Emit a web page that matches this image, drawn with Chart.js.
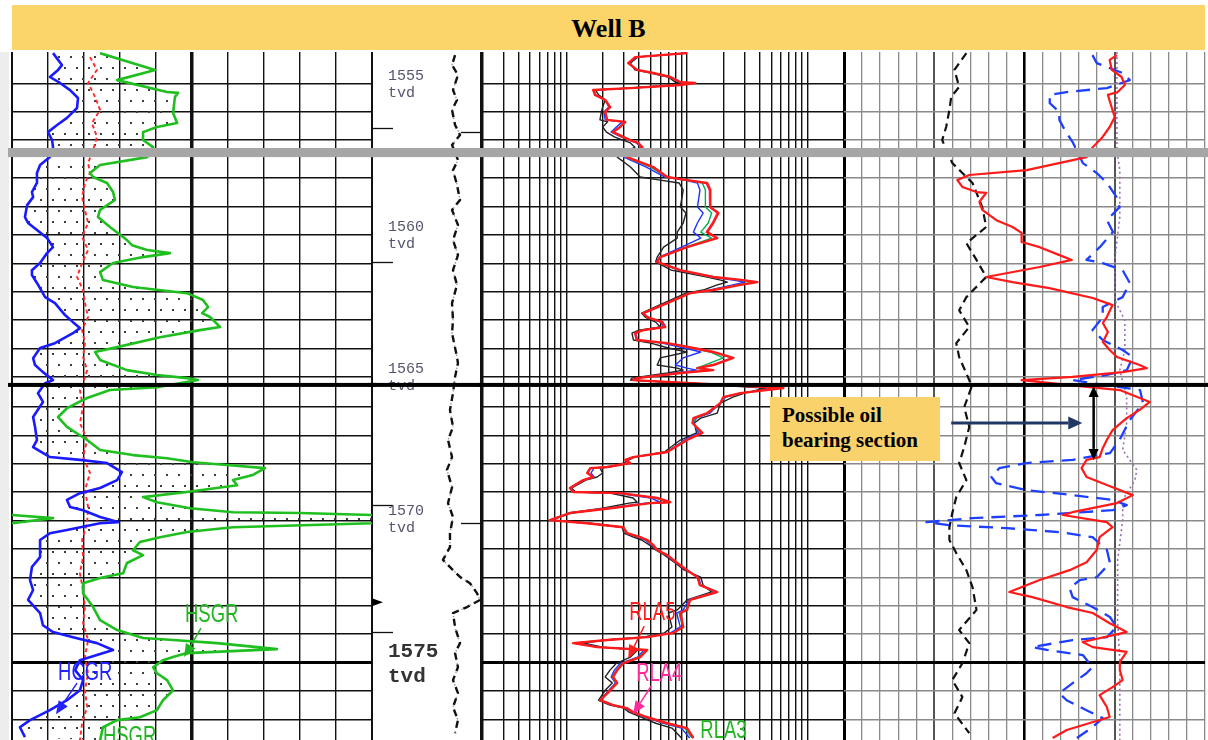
<!DOCTYPE html>
<html>
<head>
<meta charset="utf-8">
<title>Well B</title>
<script src="https://cdn.jsdelivr.net/npm/chart.js@4.4.1/dist/chart.umd.min.js"></script>
<style>
  html, body { margin:0; padding:0; background:#ffffff; }
  #stage { position:relative; width:1208px; height:740px; overflow:hidden; background:#ffffff; }
  #stage canvas { position:absolute; }
  #title { position:absolute; left:12px; top:5px; width:1193px; height:45px; background:#FBD46A;
           font:bold 26px "Liberation Serif","Times New Roman",serif; color:#000; text-align:center; line-height:47px; }
  #note { position:absolute; left:770px; top:397px; width:158px; height:58px; padding:6px 0 0 12px; background:#F9D26B;
          font:bold 21px "Liberation Serif","Times New Roman",serif; line-height:25px; color:#000; }
  #edge { position:absolute; left:0; top:52px; width:9px; height:688px; background:#ededed; }
</style>
</head>
<body>
<div id="stage">
  <div id="edge"></div>
  <div id="title">Well B</div>
  <canvas id="trackGR"></canvas>
  <canvas id="trackDepth"></canvas>
  <canvas id="trackRes"></canvas>
  <canvas id="trackPor"></canvas>
  <div id="note">Possible oil<br>bearing section</div>
</div>
<script>
// ---------------- depth axis ----------------
const DEPTH_MIN = 1553.56;
const DEPTH_MAX = 1577.78;
const gridDepths = [1554.66,1555.66,1556.66,1558,1559,1560,1561,1562,1563,1564,1565,
  1566.05,1567.05,1568.05,1569.05,1570.05,1571.05,1572.05,1573.05,1574.05,1575.05,1576.05,1577.05];
const HEAVY_GRID_DEPTH = 1575.05;
const SPLICE_LINE_DEPTH = 1565.28;
const SPLICE_BAND = [1556.94, 1557.26];

// depth labels (track 2)
const depthLabelText = ['1555','1560','1565','1570','1575'];
const depthLabelAnchor = [1554.68, 1560, 1565, 1570, 1575];
const depthLabelBold = [false,false,false,false,true];
const leftTickDepths = [1556.24, 1560.95, 1569.51, 1573.98];
const rightTickDepths = [1556.38, 1570.15];
const MARKER_DEPTH = 1572.93;

// ---------------- tick lists ----------------
const grTicks = [0,15,30,45,60,75,90,105,120,135,150];
const resTicks = [0.2,0.3,0.4,0.5,0.6,0.7,0.8,0.9,1,2,3,4,5,6,7,8,9,10,20,30,40,50,60,70,80,90,100,200];
const porTicks = [0,1,2,3,4,5,6,7,8,9,10,11,12,13,14,15,16,17,18,19,20];

// ---------------- Track 1: gamma ray (gAPI, 0-150) ----------------
const hsgrDepth = [1553.60,1554.19,1554.55,1554.97,1555.00,1555.14,1555.71,1556.06,1556.20,1556.38,1556.66,1556.91,1557.26,1557.54,1557.82,1557.96,1558.17,1558.49,1558.77,1559.12,1559.37,1559.72,1560.18,1560.36,1560.53,1560.64,1560.78,1560.99,1561.31,1561.59,1561.83,1562.05,1562.29,1562.54,1562.75,1562.89,1563.24,1563.35,1563.60,1563.95,1564.12,1564.40,1564.76,1564.93,1565.04,1565.11,1565.36,1565.46,1565.74,1566.10,1566.41,1566.76,1567.22,1567.57,1567.75,1567.86,1568.00,1568.10,1568.21,1568.45,1568.63,1568.81,1569.05,1569.23,1569.41,1569.62,1569.76,1569.79,1569.86,1569.97,1570.15,1570.29,1570.46,1570.64,1570.81,1571.10,1571.27,1571.55,1571.91,1572.08,1572.26,1572.61,1573.10,1573.56,1573.91,1574.19,1574.26,1574.37,1574.58,1574.72,1574.86,1574.97,1575.22,1575.43,1575.67,1576.03,1576.38,1576.73,1576.98,1577.08,1577.33,1577.79];
const hsgrVal = [36.7,59.6,43.8,64.6,69.2,67.9,67.1,68.8,60.4,54.6,54.6,58.8,56.3,36.7,32.5,33.8,39.6,42.1,42.9,36.7,35.8,40.8,47.9,50.0,56.3,65.8,54.6,42.1,36.7,37.9,50.4,72.9,79.6,81.7,79.2,82.5,86.7,78.3,61.7,43.8,34.6,36.7,47.9,60.4,72.9,77.5,60.4,40.8,31.3,22.9,19.2,22.9,31.3,36.7,50.4,64.6,75.4,89.6,105.4,100.4,92.1,93.8,72.9,54.6,60.4,74.2,92.1,120,150,167,150,92.1,72.9,61.7,53.3,50.4,54.6,47.9,46.3,36.7,29.6,29.6,33.8,36.7,43.8,54.6,67.1,85.4,110.4,72.9,67.1,62.9,58.8,60.4,64.6,67.1,62.9,60.4,53.3,43.8,37.9,36.7];
const hsgrWrapDepth = [1569.86,1569.97,1570.15];
const hsgrWrapVal = [0,17.1,0];
const hcgrDepth = [1553.60,1554.02,1554.19,1554.44,1554.65,1554.90,1555.18,1555.53,1555.88,1556.13,1556.38,1556.66,1556.91,1557.26,1557.54,1557.82,1558.17,1558.49,1558.67,1558.95,1559.37,1559.58,1559.83,1560.11,1560.43,1560.64,1560.99,1561.24,1561.41,1561.69,1562.19,1562.40,1562.82,1563.07,1563.28,1563.46,1563.81,1563.98,1564.34,1564.58,1564.83,1565.11,1565.22,1565.57,1565.88,1566.41,1566.76,1567.22,1567.47,1567.82,1567.92,1568.03,1568.35,1568.63,1568.91,1569.09,1569.33,1569.58,1569.69,1569.93,1570.11,1570.15,1570.39,1570.50,1570.74,1571.34,1571.69,1572.15,1572.50,1572.85,1573.31,1573.74,1573.98,1574.16,1574.37,1574.61,1574.79,1574.97,1575.32,1575.67,1576.03,1576.38,1576.73,1577.08,1577.33,1577.68];
const hcgrVal = [17.1,20.8,19.2,15.8,20.0,24.2,27.5,27.1,22.9,18.8,15.0,16.7,17.1,15.8,11.7,10.4,10.4,8.3,8.8,6.3,5.4,6.7,10.4,14.6,17.1,14.6,11.7,8.3,8.3,10.4,13.8,17.9,22.1,25.4,28.3,25.4,17.9,11.7,8.8,9.6,12.9,17.1,13.8,10.8,12.9,8.8,9.6,10.4,8.8,15.8,28.3,39.6,45.8,43.8,36.7,28.3,22.9,24.2,29.6,36.7,44.2,36.7,22.9,15.8,11.7,11.7,8.3,7.5,8.8,6.7,11.7,12.9,17.1,25.4,35.4,42.1,35.4,28.3,26.3,29.6,28.3,22.9,15.8,7.5,3.3,5.4];
const thorDepth = [1553.74,1554.19,1554.65,1555.14,1555.60,1556.06,1556.55,1557.01,1557.47,1557.82,1558.17,1558.67,1559.12,1559.58,1560.07,1560.53,1560.99,1561.48,1561.94,1562.40,1562.89,1563.35,1563.81,1564.30,1564.76,1565.22,1565.46,1566.06,1566.62,1567.22,1567.82,1568.38,1568.98,1569.58,1570.15,1570.74,1571.34,1571.91,1572.50,1573.10,1573.67,1574.26,1574.86,1575.43,1576.03,1576.62,1577.19,1577.79];
const thorVal = [32.5,35.4,31.7,34.6,36.7,33.3,35.4,33.8,31.7,32.5,30.4,29.2,30.4,31.7,29.2,31.7,29.2,27.1,29.6,30.4,31.7,29.2,30.4,29.6,31.3,29.6,28.3,29.6,28.3,31.3,29.6,32.5,30.4,31.7,31.3,29.2,29.6,28.3,29.6,30.4,29.6,31.7,30.4,31.7,30.4,31.3,29.2,28.3];

// ---------------- Track 2: depth-track curve ----------------
const dtDepth = [1553.67,1554.02,1554.37,1554.90,1555.25,1555.60,1556.13,1556.48,1556.83,1557.36,1557.72,1558.24,1558.77,1559.12,1559.65,1560.18,1560.71,1561.24,1561.76,1562.40,1563.00,1563.46,1564.30,1564.51,1565.00,1565.57,1566.16,1566.76,1567.22,1567.82,1568.27,1568.88,1569.44,1569.93,1570.50,1570.99,1571.44,1571.80,1572.04,1572.26,1572.61,1572.85,1573.10,1573.31,1573.81,1574.37,1574.72,1575.22,1575.67,1576.13,1576.62,1577.08,1577.54];
const dtVal = [7.69,7.41,7.96,7.50,7.87,7.41,7.69,8.15,7.41,7.96,7.50,7.87,8.15,7.41,7.96,7.50,7.96,7.50,7.87,7.41,7.50,7.41,7.87,7.96,7.69,7.50,7.22,7.50,7.04,7.41,6.94,7.41,7.04,7.50,7.22,7.22,6.57,7.50,8.15,9.07,9.72,10.0,8.80,7.50,7.69,8.15,7.69,7.96,7.50,7.96,7.50,7.96,7.69];

// ---------------- Track 3: resistivity (ohm.m, log 0.2-200) ----------------
const resDepth = [1553.60,1553.74,1553.95,1554.19,1554.30,1554.44,1554.62,1554.65,1554.72,1554.83,1554.90,1555.07,1555.25,1555.50,1555.67,1555.95,1556.02,1556.20,1556.38,1556.55,1556.66,1556.76,1556.91,1557.26,1557.61,1557.96,1558.07,1558.17,1558.42,1559.02,1559.23,1559.58,1559.90,1560.11,1560.43,1560.78,1560.95,1561.24,1561.48,1561.59,1561.66,1561.76,1561.94,1562.05,1562.40,1562.75,1562.89,1563.07,1563.24,1563.35,1563.46,1563.70,1563.81,1563.98,1564.12,1564.33,1564.58,1564.69,1564.76,1564.86,1565.04,1565.11,1565.39,1565.57,1565.71,1565.92,1566.27,1566.45,1566.62,1566.97,1567.22,1567.64,1567.82,1567.92,1568.03,1568.17,1568.21,1568.38,1568.52,1568.63,1568.91,1569.05,1569.09,1569.26,1569.41,1569.44,1569.62,1569.79,1570.04,1570.15,1570.29,1570.50,1570.64,1570.74,1570.92,1571.09,1571.27,1571.55,1571.80,1572.05,1572.33,1572.57,1572.85,1573.20,1573.31,1573.80,1574.01,1574.16,1574.26,1574.37,1574.51,1574.61,1574.86,1575.08,1575.32,1575.56,1575.77,1576.03,1576.38,1576.55,1576.66,1576.80,1576.98,1577.19,1577.36,1577.71];
const rla5 = [10.0,3.72,3.26,3.86,5.25,7.26,8.79,11.7,8.79,3.38, 1.67,1.73,2.10,2.31,2.10,2.18,3.08,2.79,2.44,2.96, 3.38,3.94,4.26,3.19,5.25,6.86,10.0,14.7,15.6,15.6, 18.2,16.5,14.7,17.8,10.0,6.00,5.66,8.79,16.5,29.3, 38.3,27.7,16.5,10.6,6.86,4.34,4.68,6.24,6.60,4.34, 3.72,3.86,6.86,11.3,16.5,24.2,16.5,12.2,16.5,8.79, 3.86,3.58,63.0,27.7,20.0,18.9,14.7,11.3,11.1,13.4, 10.0,6.86,3.58,3.08,3.38,2.18,1.58,1.49,1.67,1.38, 1.07,1.14,2.79,5.66,7.26,4.96,2.31,1.07,0.73,1.49, 2.96,3.19,4.09,4.68,5.25,5.66,6.86,8.30,10.0,12.2, 12.8,17.8,10.6,10.0,8.79,9.31,7.69,4.68,2.18,1.14, 1.80,4.68,4.09,2.96,2.64,2.44,2.64,2.31,1.91,2.44, 3.19,3.58,4.68,6.86,10.0,11.3];
const rla4 = [10.0,3.72,3.26,3.86,5.25,7.26,8.79,11.5,8.79,3.38, 1.67,1.73,2.1,2.31,2.1,2.18,3.08,2.79,2.44,2.96, 3.38,3.94,4.26,3.19,5.25,6.86,10.0,14.3,15.3,15.4, 17.8,16.2,14.4,17.5,10.0,6.0,5.66,8.79,16.5,29.0, 38.0,27.5,16.5,10.6,6.86,4.34,4.68,6.24,6.6,4.34, 3.72,3.86,6.86,11.2,16.3,23.5,16.0,12.2,16.3,8.79, 3.86,3.58,62.0,27.7,20.0,18.9,14.7,11.3,11.1,13.4, 10.0,6.86,3.58,3.08,3.38,2.18,1.58,1.49,1.67,1.38, 1.07,1.14,2.79,5.66,7.26,4.96,2.31,1.07,0.73,1.49, 2.96,3.19,4.09,4.68,5.25,5.66,6.86,8.3,10.0,12.2, 12.8,17.8,10.6,10.0,8.79,9.31,7.69,4.68,2.18,1.14, 1.8,4.68,4.09,2.96,2.64,2.44,2.64,2.31,1.91,2.44, 3.19,3.58,4.68,6.86,10.0,11.3];
const rla3 = [10.0,3.75,3.3,3.86,5.25,7.26,8.79,11.0,8.7,3.38, 1.68,1.73,2.1,2.3,2.1,2.15,3.0,2.75,2.4,2.9, 3.35,3.9,4.25,3.1,5.0,6.8,9.8,13.4,14.2,14.2, 16.0,15.0,13.0,16.0,9.8,6.0,5.66,8.7,16.3,27.5, 35.0,26.5,16.2,10.5,6.86,4.34,4.68,6.2,6.6,4.34, 3.72,3.86,6.7,10.8,15.5,20.0,14.0,12.0,15.0,8.6, 3.86,3.58,60.0,27.7,20.5,18.9,15.0,11.8,11.2,13.0, 9.8,6.86,3.58,3.1,3.38,2.18,1.6,1.5,1.67,1.38, 1.07,1.14,2.75,5.5,7.0,4.9,2.3,1.07,0.74,1.5, 2.96,3.19,4.0,4.6,5.2,5.66,6.8,8.3,10.0,12.2, 12.8,17.5,10.5,9.8,8.6,9.2,7.6,4.6,2.18,1.16, 1.82,4.6,4.0,2.9,2.6,2.4,2.6,2.3,1.91,2.44, 3.19,3.55,4.6,6.7,9.6,11.0];
const rla2 = [10.0,3.8,3.3,3.8,5.2,7.2,8.6,10.2,8.5,3.4, 1.7,1.75,2.1,2.25,2.05,2.1,2.9,2.6,2.35,2.85, 3.3,3.8,4.2,3.0,4.6,6.5,9.5,12.2,12.8,12.2, 13.6,12.2,11.3,13.0,9.0,5.9,5.6,8.5,15.8,24.0, 30.0,24.0,15.5,10.3,6.8,4.3,4.7,6.0,6.5,4.3, 3.7,3.8,6.2,9.5,13.0,9.3,8.0,10.0,12.0,8.0, 3.8,3.5,55.0,28.0,21.0,18.9,15.5,12.0,11.3,12.5, 9.5,6.8,3.6,3.2,3.3,2.2,1.7,1.6,1.7,1.4, 1.08,1.15,2.6,5.0,6.0,4.5,2.2,1.07,0.75,1.5, 2.95,3.15,3.9,4.5,5.1,5.6,6.7,8.2,9.8,12.5, 13.0,17.0,10.3,9.3,8.2,8.8,7.3,4.5,2.15,1.25, 1.9,4.4,3.9,2.8,2.5,2.35,2.55,2.25,1.9,2.4, 3.1,3.5,4.5,6.4,9.0,10.5];
const rla1 = [10.0,3.9,3.4,3.7,5.0,7.0,8.0,8.8,7.5,3.2, 1.75,1.85,2.1,2.0,1.95,1.9,2.2,2.0,2.15,2.5, 2.95,3.4,3.7,2.64,3.4,4.09,6.0,8.6,9.3,8.8, 9.8,9.3,8.3,8.3,6.4,5.66,5.5,7.4,14.7,19.0, 21.6,17.8,13.6,9.8,6.4,4.2,4.5,5.5,6.0,4.0, 3.5,3.6,5.0,7.0,10.0,6.0,5.66,8.3,9.3,6.86, 3.5,3.4,45.0,30.0,24.0,18.9,17.8,13.0,11.5,12.0, 8.8,6.5,3.7,3.3,3.0,2.3,1.9,2.0,1.8,1.45, 1.1,1.2,2.3,3.58,3.86,3.3,2.0,1.05,0.76,1.6, 2.9,3.0,3.6,4.2,4.9,5.5,6.5,8.0,9.5,13.0, 13.6,16.0,10.0,8.3,7.0,7.5,6.5,4.3,2.1,1.4, 2.0,3.9,3.4,2.6,2.3,2.1,2.4,2.1,1.85,2.3, 3.0,3.3,4.2,5.5,7.5,9.0];

// ---------------- Track 4: porosity / density ----------------
const rhozDepth = [1553.67,1553.84,1554.19,1554.44,1554.72,1554.97,1555.07,1555.53,1555.85,1556.20,1556.59,1556.91,1557.26,1557.72,1557.89,1558.07,1558.31,1558.49,1558.52,1558.70,1558.84,1559.12,1559.48,1559.72,1559.93,1560.25,1560.43,1560.71,1560.88,1561.13,1561.48,1561.66,1561.87,1562.22,1562.47,1562.89,1563.10,1563.42,1563.77,1564.05,1564.30,1564.58,1564.69,1564.83,1565.00,1565.11,1565.36,1565.46,1565.88,1566.16,1566.45,1566.87,1567.22,1567.50,1567.82,1567.92,1568.21,1568.52,1568.88,1569.16,1569.44,1569.76,1569.86,1570.11,1570.29,1570.64,1571.09,1571.52,1571.80,1572.15,1572.57,1572.75,1573.10,1573.31,1573.67,1573.98,1574.33,1574.51,1574.68,1575.04,1575.32,1575.67,1575.92,1576.20,1576.62,1576.97,1577.18,1577.43,1577.71];
const rhozVal = [2.706,2.686,2.692,2.719,2.728,2.708,2.681,2.692,2.700,2.686,2.664,2.639,2.622,2.456,2.297,2.264,2.278,2.317,2.344,2.333,2.325,2.333,2.372,2.417,2.442,2.442,2.492,2.547,2.581,2.492,2.344,2.417,2.519,2.639,2.694,2.678,2.667,2.681,2.667,2.686,2.706,2.769,2.789,2.722,2.583,2.442,2.631,2.714,2.797,2.769,2.733,2.694,2.678,2.667,2.658,2.622,2.608,2.622,2.694,2.750,2.706,2.583,2.556,2.678,2.694,2.658,2.650,2.622,2.575,2.492,2.408,2.472,2.567,2.639,2.686,2.733,2.611,2.639,2.733,2.714,2.714,2.722,2.694,2.658,2.678,2.686,2.631,2.567,2.528];
const nphiDepth = [1553.67,1553.95,1554.30,1554.55,1554.83,1554.97,1555.07,1555.36,1555.67,1555.95,1556.31,1556.73,1557.47,1557.82,1558.17,1558.67,1559.02,1559.48,1559.90,1560.43,1560.88,1560.99,1561.24,1561.69,1562.19,1562.54,1562.89,1563.35,1563.70,1564.05,1564.30,1564.76,1564.93,1565.11,1565.22,1565.46,1565.92,1566.51,1567.22,1567.68,1567.92,1568.03,1568.21,1568.52,1568.74,1568.98,1569.16,1569.33,1569.51,1569.69,1569.86,1569.97,1570.11,1570.22,1570.32,1570.46,1570.64,1571.09,1571.55,1572.05,1572.15,1572.43,1572.75,1573.10,1573.45,1573.80,1574.16,1574.26,1574.51,1574.61,1574.79,1575.22,1575.43,1575.78,1576.13,1576.38,1576.73,1577.01,1577.33,1577.71];
const nphiVal = [0.037,0.030,-0.013,-0.025,0.013,0.080,0.108,0.108,0.092,0.092,0.083,0.070,0.053,0.030,0.013,-0.003,-0.008,0.013,0.003,0.025,0.047,0.020,-0.013,-0.025,-0.013,0.020,0.020,0.037,0.020,-0.013,-0.030,-0.020,0.013,0.070,0.037,-0.042,-0.047,-0.025,-0.008,0.008,0.070,0.147,0.192,0.205,0.197,0.147,0.070,0.003,-0.020,0.003,0.125,0.237,0.313,0.275,0.180,0.092,0.037,0.013,0.008,0.030,0.058,0.075,0.070,0.037,0.008,-0.003,0.013,0.070,0.137,0.113,0.053,0.037,0.047,0.070,0.092,0.080,0.047,0.020,0.037,0.063];
const pefDepth = [1553.56,1557.01,1557.72,1559.37,1560.88,1562.29,1563.00,1564.05,1564.76,1565.71,1566.62,1567.57,1568.27,1568.63,1569.33,1570.04,1571.44,1573.56,1574.97,1576.38,1577.79];
const pefVal = [7.56,7.56,7.64,7.64,7.50,7.50,7.78,7.78,7.64,7.83,7.83,7.72,8.11,8.06,7.72,7.72,7.58,7.58,7.64,7.64,7.64];
const caliDepth = [1553.60,1554.19,1554.79,1555.14,1555.60,1556.20,1556.66,1557.47,1557.82,1558.17,1558.52,1559.02,1559.72,1560.29,1560.88,1561.48,1562.19,1562.65,1563.24,1563.81,1564.30,1565.11,1565.36,1566.06,1566.76,1567.47,1568.03,1568.63,1569.23,1569.79,1570.29,1570.74,1571.20,1571.80,1572.40,1573.20,1573.91,1574.37,1575.08,1575.67,1576.27,1576.84,1577.54];
const caliVal = [9.39,9.06,9.19,8.97,8.92,8.83,8.72,9.00,9.28,9.56,9.67,9.83,9.94,9.39,9.67,9.94,9.39,9.19,9.47,9.11,9.19,9.47,9.53,9.33,9.47,9.33,9.19,9.39,9.11,9.00,8.92,8.92,9.11,9.39,9.56,9.67,9.19,9.47,9.28,9.00,9.28,9.06,9.47];

// ---------------- annotations (data coordinates) ----------------
const grTags = [
  { text:'HSGR', color:'#22b522', x:72.1, d:1573.63, arrow:[78.75,1573.84,71.7,1574.86] },
  { text:'HCGR', color:'#2323ff', x:19.2, d:1575.67, arrow:[27.1,1575.78,18.3,1576.87] },
  { text:'HSGR', color:'#22b522', x:37.9, d:1577.93 }
];
const resTags = [
  { text:'RLA5', color:'#ff2020', x:3.32, d:1573.56, arrow:[4.42,1573.77,3.26,1574.90] },
  { text:'RLA4', color:'#ff2a9a', x:3.79, d:1575.71, arrow:[5.05,1575.88,3.58,1576.87] },
  { text:'RLA3', color:'#22b522', x:12.9, d:1577.72 }
];
const noteArrow = { from:5.94, to:13.2, d:1566.62 };
const oilInterval = { x:13.83, top:1565.32, base:1567.92 };

// ---------------- helpers ----------------
const pts = (ds, vs) => ds.map((d, i) => ({ x: vs[i], y: d }));

function curve(label, data, color, width, dash, xAxisID) {
  return { label, data, showLine: true, borderColor: color, backgroundColor: color,
    borderWidth: width, borderDash: dash || [], pointRadius: 0, pointHoverRadius: 0,
    fill: false, xAxisID: xAxisID || 'x', yAxisID: 'y', borderJoinStyle: 'round' };
}

function isHeavy(c) { return c.tick && Math.abs(c.tick.value - HEAVY_GRID_DEPTH) < 0.001; }

function yAxis(lineColor, visible) {
  return {
    type: 'linear', min: DEPTH_MIN, max: DEPTH_MAX, reverse: true,
    ticks: { display: false }, border: { display: false },
    grid: { display: visible, drawTicks: false,
      color: c => isHeavy(c) ? '#000' : lineColor,
      lineWidth: c => isHeavy(c) ? 3 : 1.4 },
    afterBuildTicks: s => { s.ticks = gridDepths.map(v => ({ value: v })); }
  };
}
function hiddenX(min, max, reverse) {
  return { type: 'linear', axis: 'x', min, max, reverse: !!reverse, display: false };
}

function drawArrow(ctx, x1, y1, x2, y2, color, lw, hl, hw) {
  const a = Math.atan2(y2 - y1, x2 - x1);
  const bx = x2 - hl * Math.cos(a), by = y2 - hl * Math.sin(a);
  ctx.save();
  ctx.strokeStyle = color; ctx.fillStyle = color; ctx.lineWidth = lw;
  ctx.beginPath(); ctx.moveTo(x1, y1); ctx.lineTo(bx, by); ctx.stroke();
  ctx.beginPath(); ctx.moveTo(x2, y2);
  ctx.lineTo(bx + hw / 2 * Math.sin(a), by - hw / 2 * Math.cos(a));
  ctx.lineTo(bx - hw / 2 * Math.sin(a), by + hw / 2 * Math.cos(a));
  ctx.closePath(); ctx.fill();
  ctx.restore();
}
function drawTag(ctx, text, px, py, color) {
  ctx.save(); ctx.translate(px, py); ctx.scale(0.71, 1);
  ctx.font = '26px "Liberation Sans", Arial, sans-serif';
  ctx.fillStyle = color; ctx.textBaseline = 'alphabetic';
  ctx.fillText(text, 0, 0); ctx.restore();
}
function tagPlugin(tags) {
  return { id: 'tags', afterDraw(chart) {
    const { ctx, scales: { x, y } } = chart;
    tags.forEach(t => {
      drawTag(ctx, t.text, x.getPixelForValue(t.x), y.getPixelForValue(t.d), t.color);
      if (t.arrow) drawArrow(ctx, x.getPixelForValue(t.arrow[0]), y.getPixelForValue(t.arrow[1]),
        x.getPixelForValue(t.arrow[2]), y.getPixelForValue(t.arrow[3]), t.color, 1.5, 13, 11);
    });
  } };
}

function dotTile() {
  const c = document.createElement('canvas'); c.width = 12; c.height = 22;
  const g = c.getContext('2d'); g.fillStyle = '#3c3c3c';
  [[3, 5], [9, 16]].forEach(([px, py]) => { g.fillRect(px - 1, py - 1, 2, 2); });
  return c;
}

const splicePlugin = { id: 'splice', afterDatasetsDraw(chart) {
  const { ctx, scales: { y } } = chart;
  const t = y.getPixelForValue(SPLICE_BAND[0]), b = y.getPixelForValue(SPLICE_BAND[1]);
  const l = y.getPixelForValue(SPLICE_LINE_DEPTH);
  ctx.save();
  ctx.fillStyle = '#a6a6a6'; ctx.fillRect(0, t, chart.width, b - t);
  ctx.fillStyle = '#000'; ctx.fillRect(0, l - 2, chart.width, 4);
  ctx.restore();
} };

const grFillPlugin = { id: 'grFill', beforeDatasetsDraw(chart) {
  const a = chart.getDatasetMeta(0).data, b = chart.getDatasetMeta(1).data;
  const { ctx, chartArea: ar } = chart;
  ctx.save();
  ctx.beginPath(); ctx.rect(ar.left, ar.top, ar.right - ar.left, ar.bottom - ar.top); ctx.clip();
  ctx.beginPath();
  a.forEach((p, i) => i ? ctx.lineTo(p.x, p.y) : ctx.moveTo(p.x, p.y));
  for (let i = b.length - 1; i >= 0; i--) ctx.lineTo(b[i].x, b[i].y);
  ctx.closePath();
  ctx.fillStyle = ctx.createPattern(dotTile(), 'repeat');
  ctx.fill();
  ctx.restore();
} };

const depthTrackPlugin = { id: 'depthTrack', beforeDatasetsDraw(chart) {
  const { ctx, chartArea: a, scales: { y } } = chart;
  ctx.save();
  ctx.strokeStyle = '#111'; ctx.lineWidth = 1.3;
  leftTickDepths.forEach(d => { const p = Math.round(y.getPixelForValue(d)) + 0.5;
    ctx.beginPath(); ctx.moveTo(a.left, p); ctx.lineTo(a.left + 21, p); ctx.stroke(); });
  rightTickDepths.forEach(d => { const p = Math.round(y.getPixelForValue(d)) + 0.5;
    ctx.beginPath(); ctx.moveTo(a.right - 19, p); ctx.lineTo(a.right, p); ctx.stroke(); });
  const m = y.getPixelForValue(MARKER_DEPTH);
  ctx.fillStyle = '#000'; ctx.beginPath();
  ctx.moveTo(a.left, m - 4); ctx.lineTo(a.left + 11, m); ctx.lineTo(a.left, m + 4); ctx.closePath(); ctx.fill();
  depthLabelText.forEach((t, i) => {
    const p = y.getPixelForValue(depthLabelAnchor[i]);
    const big = depthLabelBold[i];
    ctx.fillStyle = big ? '#333' : '#55556f';
    ctx.font = big ? 'bold 21px "Liberation Mono", monospace' : '15px "Liberation Mono", monospace';
    ctx.fillText(t, a.left + 16, p - 4);
    ctx.fillText('tvd', a.left + 16, p + (big ? 21 : 13));
  });
  ctx.restore();
} };

const porNotePlugin = { id: 'porNote', afterDraw(chart) {
  const { ctx, scales: { x, y } } = chart;
  const yy = y.getPixelForValue(noteArrow.d);
  drawArrow(ctx, x.getPixelForValue(noteArrow.from), yy, x.getPixelForValue(noteArrow.to), yy, '#1F3864', 3, 14, 13);
  const xx = x.getPixelForValue(oilInterval.x);
  const y1 = y.getPixelForValue(oilInterval.top), y2 = y.getPixelForValue(oilInterval.base);
  const mid = (y1 + y2) / 2;
  drawArrow(ctx, xx, mid, xx, y1, '#000', 2.5, 11, 10);
  drawArrow(ctx, xx, mid, xx, y2, '#000', 2.5, 11, 10);
} };

function makeTrack(id, areaLeft, areaRight, scales, datasets, plugins) {
  const cv = document.getElementById(id);
  const pad = 4;
  cv.width = areaRight - areaLeft + 2 * pad; cv.height = 688;
  cv.style.left = (areaLeft - pad) + 'px'; cv.style.top = '52px';
  cv.style.width = cv.width + 'px'; cv.style.height = '688px';
  return new Chart(cv.getContext('2d'), {
    type: 'scatter',
    data: { datasets },
    options: {
      responsive: false, maintainAspectRatio: false, animation: false, events: [], devicePixelRatio: 1,
      layout: { padding: { left: pad, right: pad, top: 0, bottom: 0 } },
      plugins: { legend: { display: false }, tooltip: { enabled: false } },
      elements: { point: { radius: 0, hoverRadius: 0 }, line: { tension: 0 } },
      scales
    },
    plugins: [splicePlugin].concat(plugins)
  });
}

// ---------------- Track 1 ----------------
makeTrack('trackGR', 12, 372, {
  x: { type: 'linear', min: 0, max: 150, ticks: { display: false }, border: { display: false },
       grid: { drawTicks: false, color: '#111',
               lineWidth: c => c.tick && c.tick.value === 75 ? 3.5 : ((c.tick && (c.tick.value === 0 || c.tick.value === 150)) ? 2 : 1.4) },
       afterBuildTicks: s => { s.ticks = grTicks.map(v => ({ value: v })); } },
  y: yAxis('#111', true)
}, [
  curve('HSGR', pts(hsgrDepth, hsgrVal), '#1fbf1f', 2.6),
  curve('HCGR', pts(hcgrDepth, hcgrVal), '#1a1aff', 2.6),
  curve('HSGR backup', pts(hsgrWrapDepth, hsgrWrapVal), '#1fbf1f', 2.6),
  curve('HTHO', pts(thorDepth, thorVal), '#ff2a2a', 1.9, [4, 3])
], [grFillPlugin, tagPlugin(grTags)]);

// ---------------- Track 2 ----------------
makeTrack('trackDepth', 372, 480, {
  x: hiddenX(0, 10),
  y: yAxis('#111', false)
}, [
  curve('depth curve', pts(dtDepth, dtVal), '#111', 2.4, [7, 5]),
  curve('depth curve dots', pts(dtDepth, dtVal), '#9a9a9a', 1.4, [1.5, 3])
], [depthTrackPlugin]);

// ---------------- Track 3 ----------------
makeTrack('trackRes', 482, 844, {
  x: { type: 'logarithmic', min: 0.2, max: 200, ticks: { display: false }, border: { display: false },
       grid: { drawTicks: false, color: '#111',
               lineWidth: c => (c.index === 0 ? 3.5 : (c.tick && c.tick.value === 200 ? 3 : 1.4)) },
       afterBuildTicks: s => { s.ticks = resTicks.map(v => ({ value: v })); } },
  y: yAxis('#111', true)
}, [
  curve('RLA5', pts(resDepth, rla5), '#ff1a1a', 2.4),
  curve('RLA4', pts(resDepth, rla4), '#ff2a9a', 1.4),
  curve('RLA3', pts(resDepth, rla3), '#00b050', 1.4),
  curve('RLA2', pts(resDepth, rla2), '#2233ff', 1.4),
  curve('RLA1', pts(resDepth, rla1), '#222222', 1.4)
], [tagPlugin(resTags)]);

// ---------------- Track 4 ----------------
makeTrack('trackPor', 844, 1205, {
  x: { type: 'linear', min: 0, max: 20, ticks: { display: false }, border: { display: false },
       grid: { drawTicks: false,
               color: c => { const v = c.tick ? c.tick.value : 1; return (v === 0 || v === 10) ? '#000' : (v % 5 === 0 && v !== 20 ? '#555' : '#8a8a8a'); },
               lineWidth: c => { const v = c.tick ? c.tick.value : 1; return v === 0 ? 3 : (v === 10 ? 2.6 : (v % 5 === 0 && v !== 20 ? 2 : 1.3)); } },
       afterBuildTicks: s => { s.ticks = porTicks.map(v => ({ value: v })); } },
  xRho: hiddenX(1.95, 2.95),
  xNeu: hiddenX(-0.15, 0.45, true),
  xPe: hiddenX(0, 10),
  xCal: hiddenX(6, 16),
  y: yAxis('#8a8a8a', true)
}, [
  curve('RHOZ', pts(rhozDepth, rhozVal), '#ff1a1a', 2.2, [], 'xRho'),
  curve('NPHI', pts(nphiDepth, nphiVal), '#1f3fff', 2.3, [14, 8], 'xNeu'),
  curve('PEF', pts(pefDepth, pefVal), '#9b6fb0', 1.6, [2, 3], 'xPe'),
  curve('HCAL', pts(caliDepth, caliVal), '#111', 2.2, [8, 5], 'xCal')
], [porNotePlugin]);
</script>
</body>
</html>
